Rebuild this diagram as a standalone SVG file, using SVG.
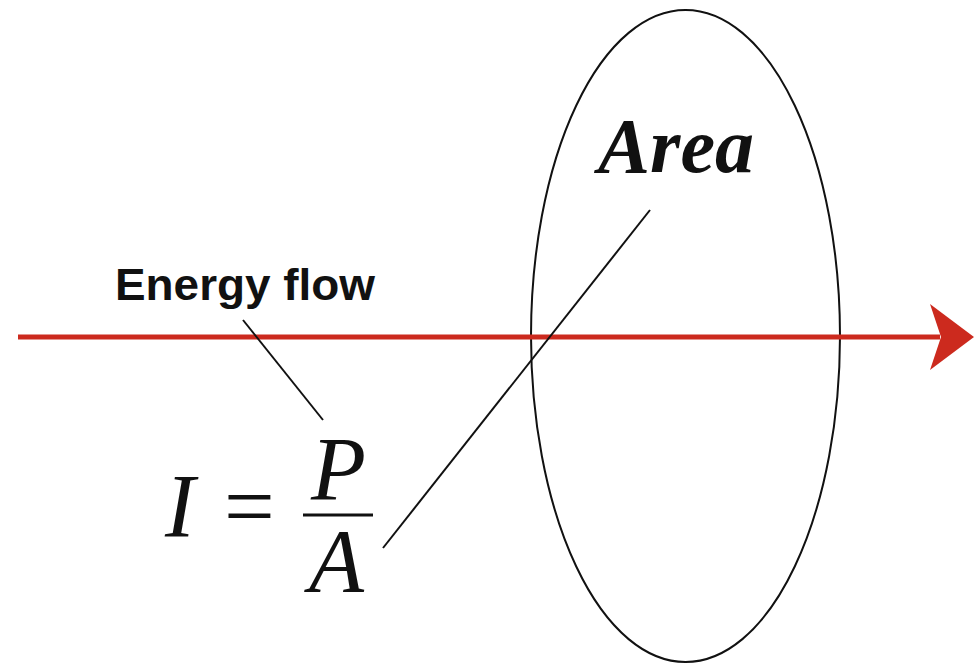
<svg xmlns="http://www.w3.org/2000/svg" width="974" height="666" viewBox="0 0 974 666">
<style>
.ln{stroke:#111;stroke-width:2;fill:none}
.math{font-family:"Liberation Serif","Times New Roman",serif;font-style:italic;fill:#111}
</style>
<rect width="974" height="666" fill="#fff"/>
<g id="area-ellipse">
<ellipse cx="685.5" cy="336" rx="154.5" ry="326" class="ln"/>
<text x="598" y="172" class="math" font-weight="bold" font-size="78">Area</text>
</g>
<g id="energy-flow">
<line x1="18" y1="337" x2="940" y2="337" stroke="#cc2a1e" stroke-width="5"/>
<path d="M974,337 L930,304 L941,337 L930,370 Z" fill="#cc2a1e"/>
<text x="115" y="300" font-family="Liberation Sans,Arial,sans-serif" font-weight="bold" font-size="44" textLength="260" lengthAdjust="spacingAndGlyphs" fill="#111">Energy flow</text>
</g>
<g id="formula">
<text x="165" y="537" class="math" font-size="90">I</text>
<text x="224" y="537" font-family="Liberation Serif,serif" font-size="90" fill="#111">=</text>
<text x="311" y="500" class="math" font-size="90">P</text>
<line x1="303" y1="515" x2="373" y2="515" stroke="#111" stroke-width="3"/>
<text x="309" y="592" class="math" font-size="90">A</text>
</g>
<g id="connectors">
<line x1="243" y1="320" x2="323" y2="420" class="ln"/>
<line x1="650" y1="210" x2="383" y2="548" class="ln"/>
</g>
</svg>
